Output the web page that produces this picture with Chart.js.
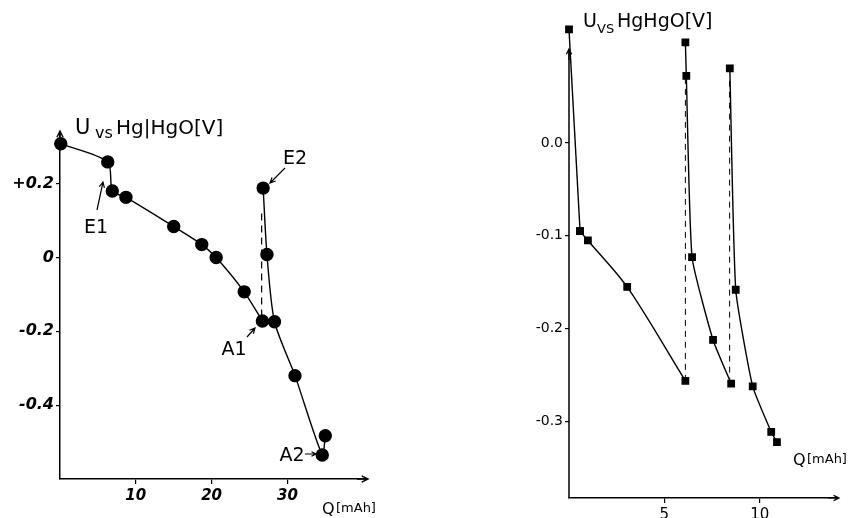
<!DOCTYPE html>
<html>
<head>
<meta charset="utf-8">
<script src="https://cdn.jsdelivr.net/npm/chart.js@4.4.0/dist/chart.umd.min.js"></script>
<style>
  body { margin: 0; background: #fff; }
  #left { position: absolute; left: 0; top: 0; }
  #right { position: absolute; left: 430px; top: 0; }
</style>
</head>
<body>
<canvas id="left" width="430" height="518"></canvas>
<canvas id="right" width="419" height="518"></canvas>
<script>
// Left panel: Q [mAh] vs U [V]
const leftQ1 = [0.1, 6.3, 6.9, 8.7, 15.0, 18.7, 20.6, 24.3, 26.7];
const leftU1 = [0.308, 0.259, 0.18, 0.163, 0.084, 0.035, 0.0, -0.093, -0.172];
const leftQ2 = [26.8, 27.3, 28.3, 31.0, 34.6, 35.0];
const leftU2 = [0.188, 0.008, -0.174, -0.32, -0.535, -0.483];
const leftDashQ = [26.6, 26.6];
const leftDashU = [-0.16, 0.13];
const leftYTicks = [0.2, 0, -0.2, -0.4];
const leftYLabels = ['+0.2', '0', '-0.2', '-0.4'];
const leftXTicks = [10, 20, 30];

// Right panel (first branch: steep drop, then a curve)
const rightQ1a = [0, 0.58];
const rightU1a = [0.122, -0.095];
const rightQ1b = [0.58, 0.99, 3.05, 6.1];
const rightU1b = [-0.095, -0.105, -0.155, -0.256];
const rightQ2 = [6.1, 6.15, 6.45, 7.55, 8.5];
const rightU2 = [0.108, 0.072, -0.123, -0.212, -0.259];
const rightQ3 = [8.43, 8.74, 9.63, 10.6, 10.9];
const rightU3 = [0.08, -0.158, -0.262, -0.311, -0.322];
const rightDash1Q = [6.1, 6.1];
const rightDash1U = [-0.256, 0.07];
const rightDash2Q = [8.42, 8.42];
const rightDash2U = [-0.259, 0.07];
const rightYTicks = [0, -0.1, -0.2, -0.3];
const rightYLabels = ['0.0', '-0.1', '-0.2', '-0.3'];
const rightXTicks = [5, 10];

const pts = (xs, ys) => xs.map((x, i) => ({ x: x, y: ys[i] }));

function line(xs, ys, opts) {
  return Object.assign({
    data: pts(xs, ys),
    showLine: true,
    borderColor: '#000',
    backgroundColor: '#000',
    borderWidth: 1.4,
    pointRadius: 0,
    tension: 0.25,
    clip: false
  }, opts);
}

function arrow(ctx, x1, y1, x2, y2, size) {
  const a = Math.atan2(y2 - y1, x2 - x1);
  ctx.beginPath();
  ctx.moveTo(x1, y1);
  ctx.lineTo(x2, y2);
  ctx.moveTo(x2 - size * Math.cos(a - 0.45), y2 - size * Math.sin(a - 0.45));
  ctx.lineTo(x2, y2);
  ctx.lineTo(x2 - size * Math.cos(a + 0.45), y2 - size * Math.sin(a + 0.45));
  ctx.stroke();
}

function axisScales(xMin, xMax, yMin, yMax, yTicks, yLabels, xTicks, yWidth, xHeight, yFont, xFont, yBorder) {
  return {
    x: {
      type: 'linear', min: xMin, max: xMax,
      afterFit: (s) => { s.height = xHeight; },
      afterBuildTicks: (s) => { s.ticks = xTicks.map((v) => ({ value: v })); },
      grid: { drawOnChartArea: false, drawTicks: true, tickLength: 5, color: '#000', lineWidth: 1.2 },
      border: { display: true, color: '#000', width: 1.5 },
      ticks: { color: '#000', font: xFont, padding: 3, maxRotation: 0 }
    },
    y: {
      type: 'linear', min: yMin, max: yMax,
      afterFit: (s) => { s.width = yWidth; },
      afterBuildTicks: (s) => { s.ticks = yTicks.map((v) => ({ value: v })); },
      grid: { drawOnChartArea: false, drawTicks: true, tickLength: 4, color: '#000', lineWidth: 1.2 },
      border: { display: yBorder, color: '#000', width: 1.5 },
      ticks: {
        color: '#000', font: yFont, padding: 2,
        callback: (v) => yLabels[yTicks.indexOf(v)]
      }
    }
  };
}

// Left chart
const leftDecor = {
  id: 'leftDecor',
  afterDraw(chart) {
    const ctx = chart.ctx;
    const a = chart.chartArea;
    ctx.save();
    ctx.strokeStyle = '#000';
    ctx.fillStyle = '#000';
    ctx.lineWidth = 1.4;
    // axis arrows
    arrow(ctx, a.left, a.top + 10, a.left, a.top - 1, 7);
    arrow(ctx, a.right - 10, a.bottom, a.right + 1, a.bottom, 7);
    // title
    ctx.textBaseline = 'alphabetic';
    ctx.font = '21px "DejaVu Sans"';
    ctx.fillText('U', 75, 134);
    ctx.font = '16px "DejaVu Sans"';
    ctx.fillText('vs', 95, 138);
    ctx.font = '20px "DejaVu Sans"';
    ctx.fillText('Hg|HgO[V]', 116, 134);
    // x axis title
    ctx.font = '16px "DejaVu Sans"';
    ctx.fillText('Q', 322, 514);
    ctx.font = '13px "DejaVu Sans"';
    ctx.fillText('[mAh]', 336, 512);
    // annotations
    ctx.font = '19px "DejaVu Sans"';
    ctx.textAlign = 'center';
    ctx.fillText('E2', 295, 164);
    ctx.fillText('E1', 96, 233);
    ctx.fillText('A1', 234, 355);
    ctx.fillText('A2', 292, 461);
    ctx.lineWidth = 1.2;
    arrow(ctx, 285, 168, 270, 183, 6);
    arrow(ctx, 97, 210, 103, 182, 6);
    arrow(ctx, 247, 337, 255, 328, 6);
    arrow(ctx, 305, 454, 316, 454, 5);
    ctx.restore();
  }
};

new Chart(document.getElementById('left'), {
  type: 'scatter',
  data: {
    datasets: [
      line(leftQ1, leftU1, { pointRadius: 6, pointHoverRadius: 6 }),
      line(leftQ2, leftU2, { pointRadius: 6, pointHoverRadius: 6 }),
      line(leftDashQ, leftDashU, { borderDash: [7, 5], borderWidth: 1.2, tension: 0 })
    ]
  },
  options: {
    responsive: false,
    animation: false,
    layout: { padding: { left: 0, top: 132, right: 63, bottom: 0 } },
    plugins: { legend: { display: false }, tooltip: { enabled: false } },
    scales: axisScales(0, 40.5, -0.6, 0.34, leftYTicks, leftYLabels, leftXTicks, 60, 39,
      { size: 16, style: 'italic', weight: 'bold', family: '"DejaVu Sans"' },
      { size: 15, style: 'italic', weight: 'bold', family: '"DejaVu Sans"' }, true)
  },
  plugins: [leftDecor]
});

// Right chart: the y axis line stops at 0.1, the top points sit above it
const rightAxisTop = 0.1;
const rightDecor = {
  id: 'rightDecor',
  afterDraw(chart) {
    const ctx = chart.ctx;
    const a = chart.chartArea;
    const yTop = chart.scales.y.getPixelForValue(rightAxisTop);
    ctx.save();
    ctx.strokeStyle = '#000';
    ctx.fillStyle = '#000';
    ctx.lineWidth = 1.5;
    ctx.beginPath();
    ctx.moveTo(a.left, a.bottom);
    ctx.lineTo(a.left, yTop);
    ctx.stroke();
    ctx.lineWidth = 1.2;
    arrow(ctx, a.left, yTop + 10, a.left, yTop - 1, 6);
    arrow(ctx, a.right - 10, a.bottom, a.right + 1, a.bottom, 6);
    ctx.font = '19px "DejaVu Sans"';
    ctx.fillText('U', 583 - 430, 27);
    ctx.font = '13px "DejaVu Sans"';
    ctx.fillText('VS', 597 - 430, 33);
    ctx.font = '19px "DejaVu Sans"';
    ctx.fillText('HgHgO[V]', 617 - 430, 27);
    ctx.font = '16px "DejaVu Sans"';
    ctx.fillText('Q', 793 - 430, 465);
    ctx.font = '13px "DejaVu Sans"';
    ctx.fillText('[mAh]', 807 - 430, 463);
    ctx.restore();
  }
};

const sq = { pointRadius: 4.5, pointStyle: 'rect' };

new Chart(document.getElementById('right'), {
  type: 'scatter',
  data: {
    datasets: [
      line(rightQ1a, rightU1a, Object.assign({ tension: 0 }, sq)),
      line(rightQ1b, rightU1b, Object.assign({ tension: 0.3 }, sq)),
      line(rightQ2, rightU2, Object.assign({ tension: 0.15 }, sq)),
      line(rightQ3, rightU3, Object.assign({ tension: 0.15 }, sq)),
      line(rightDash1Q, rightDash1U, { borderDash: [6, 5], borderWidth: 1, tension: 0 }),
      line(rightDash2Q, rightDash2U, { borderDash: [6, 5], borderWidth: 1, tension: 0 })
    ]
  },
  options: {
    responsive: false,
    animation: false,
    layout: { padding: { left: 0, top: 22, right: 11, bottom: 0 } },
    plugins: { legend: { display: false }, tooltip: { enabled: false } },
    scales: axisScales(0, 14.1, -0.382, 0.13, rightYTicks, rightYLabels, rightXTicks, 139, 20,
      { size: 14, family: '"DejaVu Sans"' },
      { size: 15, family: '"DejaVu Sans"' }, false)
  },
  plugins: [rightDecor]
});
</script>
</body>
</html>
